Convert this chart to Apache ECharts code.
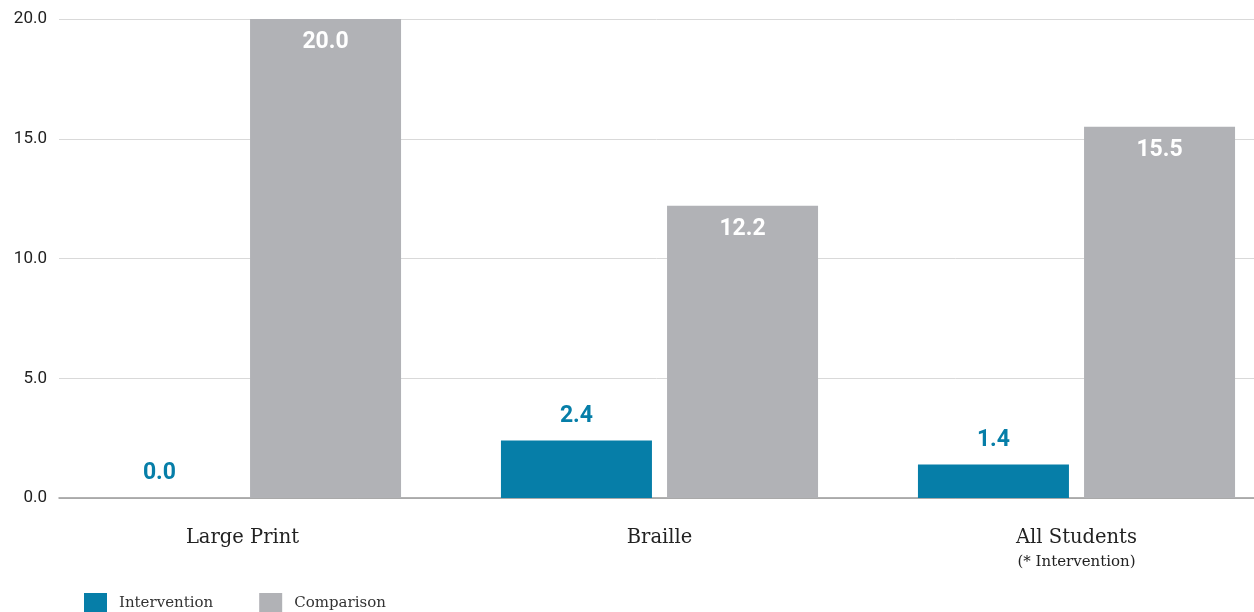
<!DOCTYPE html>
<html>
<head>
<meta charset="utf-8">
<script src="https://cdn.jsdelivr.net/npm/echarts@6/dist/echarts.min.js"></script>
<style>
  html, body { margin: 0; padding: 0; background: #ffffff; }
  #chart { width: 1254px; height: 612px; }
</style>
</head>
<body>
<div id="chart"></div>
<script>
// Chart data
var categories = ['Large Print', 'Braille', 'All Students\n{note|(* Intervention)}'];
var intervention = [0.0, 2.4, 1.4];
var comparison = [20.0, 12.2, 15.5];
var yTicks = [0, 5, 10, 15, 20];

var BLUE = '#067ea8';
var GRAY = '#b1b2b6';
var SLAB = '"DejaVu Serif", serif';
var SANS = 'Roboto, "Noto Sans", sans-serif';

var chart = echarts.init(document.getElementById('chart'), null, { renderer: 'canvas' });

chart.setOption({
  animation: false,
  backgroundColor: '#ffffff',
  legend: {
    left: 79,
    top: 588,
    itemWidth: 23,
    itemHeight: 21,
    itemGap: 46,
    icon: 'rect',
    data: ['Intervention', 'Comparison'],
    textStyle: { fontFamily: SLAB, fontSize: 15, color: '#333333', padding: [0, 0, 0, 7] }
  },
  grid: [
    // bar area (runs a little past the right edge so the categories line up)
    { left: 34, top: 19, right: -31, height: 479, containLabel: false, outerBoundsMode: 'none' },
    // value scale, grid lines and baseline
    { left: 59, top: 19, right: 0, height: 479, containLabel: false, outerBoundsMode: 'none' }
  ],
  xAxis: [
    {
      gridIndex: 0,
      type: 'category',
      data: categories,
      axisLine: { show: false },
      axisTick: { show: false },
      axisLabel: {
        margin: 28,
        fontFamily: SLAB,
        fontSize: 19.5,
        color: '#222222',
        lineHeight: 24,
        rich: {
          note: { fontFamily: SLAB, fontSize: 15, color: '#222222', lineHeight: 24 }
        }
      }
    },
    {
      gridIndex: 1,
      type: 'value',
      min: 0,
      max: 1,
      axisLabel: { show: false },
      axisTick: { show: false },
      splitLine: { show: false },
      axisLine: { show: true, lineStyle: { color: '#999999', width: 1.5 } }
    }
  ],
  yAxis: [
    {
      gridIndex: 0,
      type: 'value',
      min: 0,
      max: 20,
      show: false
    },
    {
      gridIndex: 1,
      type: 'value',
      min: yTicks[0],
      max: yTicks[yTicks.length - 1],
      interval: 5,
      axisLine: { show: false },
      axisTick: { show: false },
      axisLabel: {
        margin: 12,
        fontFamily: SANS,
        fontSize: 17,
        color: '#222222',
        formatter: function (v) { return v.toFixed(1); }
      },
      splitLine: { lineStyle: { color: '#d9d9d9', width: 1 } }
    }
  ],
  series: [
    {
      name: 'Intervention',
      type: 'bar',
      xAxisIndex: 0,
      yAxisIndex: 0,
      data: intervention,
      barWidth: 151,
      barGap: '10%',
      itemStyle: { color: BLUE },
      label: {
        show: true,
        position: 'top',
        distance: 13,
        fontFamily: SANS,
        fontWeight: 'bold',
        fontSize: 23,
        color: BLUE,
        formatter: function (p) { return p.value.toFixed(1); }
      }
    },
    {
      name: 'Comparison',
      type: 'bar',
      xAxisIndex: 0,
      yAxisIndex: 0,
      data: comparison,
      barWidth: 151,
      itemStyle: { color: GRAY },
      label: {
        show: true,
        position: 'insideTop',
        distance: 12,
        fontFamily: SANS,
        fontWeight: 'bold',
        fontSize: 23,
        color: '#ffffff',
        formatter: function (p) { return p.value.toFixed(1); }
      }
    }
  ]
});
</script>
</body>
</html>
